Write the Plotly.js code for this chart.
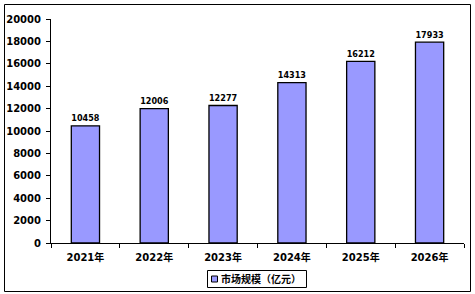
<!DOCTYPE html>
<html><head><meta charset="utf-8">
<script src="https://cdn.plot.ly/plotly-3.0.1.min.js"></script>
<style>html,body{margin:0;padding:0;background:#fff}#c{width:475px;height:294px}</style>
</head><body><div id="c"></div>
<script>
var categories = ['2021年','2022年','2023年','2024年','2025年','2026年'];
var values = [10458, 12006, 12277, 14313, 16212, 17933];
var seriesName = '市场规模（亿元）';

var W = 475, H = 294, L = 51, R = 11, T = 19, B = 51;
var pw = W - L - R, ph = H - T - B;
function px(x){ return (x - L) / pw; }
function py(y){ return (H - B - y) / ph; }

var fontFam = 'DejaVu Sans, Verdana, "Noto Sans CJK SC", sans-serif';
var cjkFam = 'DejaVu Sans, "Noto Sans CJK SC", sans-serif';
var barColor = '#9999FF';
var trace = {
  type: 'bar', x: categories, y: values, name: seriesName,
  marker: {color: barColor, line: {color: '#000', width: 1.3}},
  width: 0.41,
  text: values.map(String), textposition: 'outside', cliponaxis: false,
  textfont: {family: fontFam, size: 10, color: '#000', weight: 'bold'},
  showlegend: false
};
var layout = {
  width: W, height: H,
  margin: {l: L, r: R, t: T, b: B, autoexpand: false},
  paper_bgcolor: '#fff', plot_bgcolor: '#fff',
  font: {family: fontFam, size: 10, color: '#000', weight: 'bold'},
  showlegend: false,
  xaxis: {type: 'category', showline: true, linecolor: '#000', linewidth: 1,
          ticks: 'outside', tickson: 'boundaries', ticklen: 4, tickcolor: '#000',
          showgrid: false, fixedrange: true, automargin: false, ticklabelstandoff: 5,
          tickfont: {family: cjkFam, size: 10, weight: 'bold'}},
  yaxis: {range: [0, 20000], dtick: 2000, showline: true, linecolor: '#000', linewidth: 1,
          ticks: 'outside', ticklen: 4, tickcolor: '#000', showgrid: false, zeroline: false,
          tickformat: 'd', fixedrange: true, automargin: false, ticklabelstandoff: 3,
          tickfont: {family: fontFam, size: 10, weight: 'bold'}},
  annotations: [{xref: 'paper', yref: 'paper', x: px(219), y: py(278.5), xanchor: 'left', yanchor: 'middle',
                 text: seriesName, showarrow: false,
                 font: {family: '"Noto Sans CJK SC", sans-serif', size: 10, weight: 'bold', color: '#000'}}],
  shapes: [
    {type: 'rect', xref: 'paper', yref: 'paper',
     x0: px(4.5), x1: px(470.5), y0: py(291.5), y1: py(4.5),
     line: {color: '#000', width: 1}, fillcolor: 'rgba(0,0,0,0)', layer: 'below'},
    {type: 'rect', xref: 'paper', yref: 'paper',
     x0: px(207.5), x1: px(306.5), y0: py(287.5), y1: py(270.5),
     line: {color: '#000', width: 1}, fillcolor: '#fff', layer: 'below'},
    {type: 'rect', xref: 'paper', yref: 'paper',
     x0: px(211.5), x1: px(217.5), y0: py(282), y1: py(276),
     line: {color: '#000', width: 1}, fillcolor: barColor, layer: 'above'}
  ]
};
Plotly.newPlot('c', [trace], layout, {displayModeBar: false, staticPlot: true});
</script></body></html>
